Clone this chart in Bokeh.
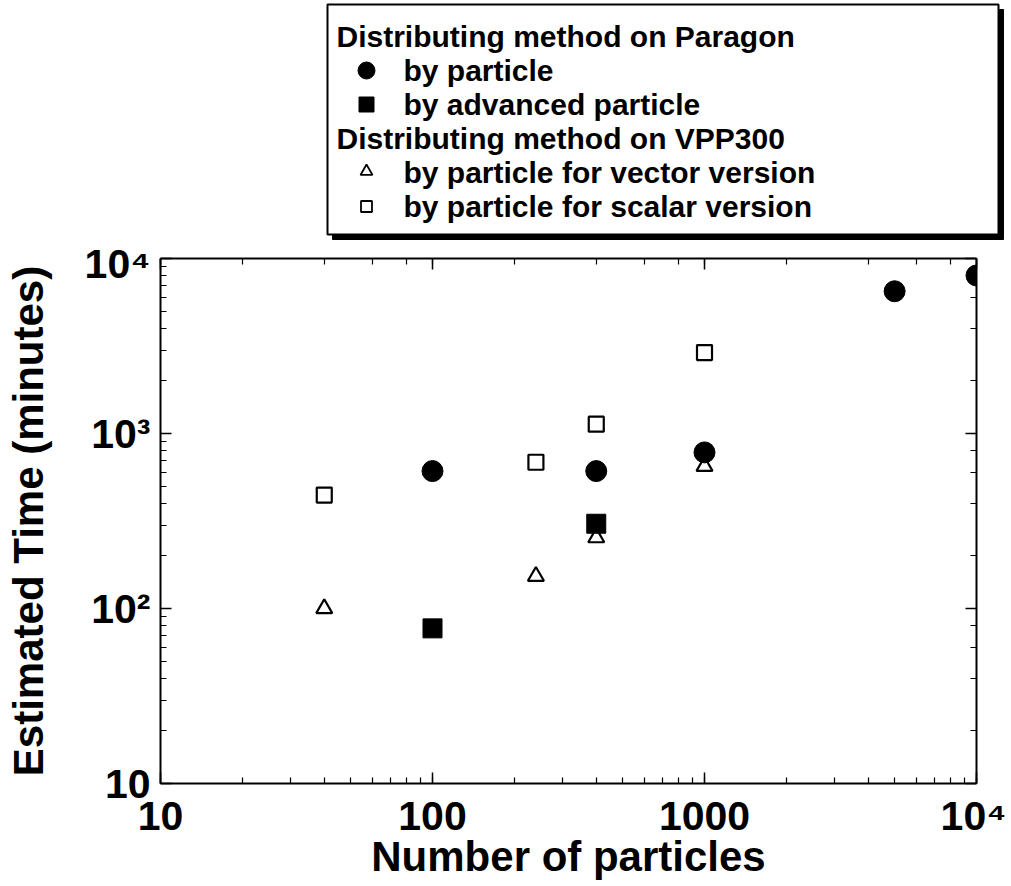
from bokeh.plotting import figure
from bokeh.models import LogAxis, Range1d
from bokeh.layouts import column
from bokeh.core.properties import value
from bokeh.embed import file_html
from bokeh.resources import INLINE

# ---- data ----
paragon_x = [100, 400, 1000, 5000, 10000]
paragon_y = [610, 610, 780, 6500, 8000]
advanced_x = [100, 400]
advanced_y = [77, 305]
vector_x = [40, 240, 400, 1000]
vector_y = [100, 153, 254, 650]
scalar_x = [40, 240, 400, 1000]
scalar_y = [445, 685, 1130, 2900]

x_tick_labels = {10: "10", 100: "100", 1000: "1000", 10000: "10\u2074"}
y_tick_labels = {10: "10", 100: "10\u00b2", 1000: "10\u00b3", 10000: "10\u2074"}

legend_headers = ["Distributing method on Paragon", "Distributing method on VPP300"]
legend_items = ["by particle", "by advanced particle",
                "by particle for vector version", "by particle for scalar version"]

FONT = "Liberation Sans, DejaVu Sans"
W = 1006
HL = 240          # height of the legend strip above the chart

# ================= legend strip =================
leg = figure(width=W, height=HL, x_range=Range1d(0, W), y_range=Range1d(HL, 0),
             output_backend="svg", toolbar_location=None,
             x_axis_location=None, y_axis_location=None, min_border=0)
leg.grid.visible = False
leg.outline_line_color = None
leg.frame_align = False

BL, BT, BR, BB, SH = 327, 4, 998, 234, 5
leg.quad(left=[BL + SH], right=[BR + SH], top=[BT + SH], bottom=[BB + SH],
         fill_color="black", line_color="black")
leg.quad(left=[BL], right=[BR], top=[BT], bottom=[BB],
         fill_color="white", line_color="black", line_width=2)

rows = [36, 70, 104, 138, 172, 206]
hx, mx, tx = 336, 366, 403
leg.text(x=[hx, hx], y=[rows[0], rows[3]], text=legend_headers,
         text_font=value(FONT), text_font_size="30px", text_font_style="bold",
         text_color="black", text_baseline="middle", text_align="left")
leg.text(x=[tx] * 4, y=[rows[1], rows[2], rows[4], rows[5]], text=legend_items,
         text_font=value(FONT), text_font_size="30px", text_font_style="bold",
         text_color="black", text_baseline="middle", text_align="left")
leg.scatter([mx], [rows[1]], marker="circle", size=17, fill_color="black", line_color="black")
leg.scatter([mx], [rows[2]], marker="square", size=15, fill_color="black", line_color="black")
leg.scatter([mx], [rows[4] - 1], marker="triangle", size=12, fill_color="white",
            line_color="black", line_width=1.8)
leg.scatter([mx], [rows[5]], marker="square", size=11, fill_color="white",
            line_color="black", line_width=1.8)

# ================= main chart =================
p = figure(frame_width=816, frame_height=525, x_axis_type="log", y_axis_type="log",
           x_range=Range1d(10, 1e4), y_range=Range1d(10, 1e4),
           output_backend="svg", toolbar_location=None,
           min_border_left=160, min_border_right=30,
           min_border_top=18, min_border_bottom=100)
p.grid.visible = False
p.outline_line_color = None
p.frame_align = False

def style_axis(ax, labels=True):
    ax.axis_line_color = "black"
    ax.axis_line_width = 2
    ax.major_tick_line_color = "black"
    ax.major_tick_line_width = 1.5
    ax.minor_tick_line_color = "black"
    ax.minor_tick_line_width = 1.2
    ax.major_tick_in = 11
    ax.major_tick_out = 0
    ax.minor_tick_in = 6
    ax.minor_tick_out = 0
    if labels:
        ax.major_label_text_font = FONT
        ax.major_label_text_font_size = "41px"
        ax.major_label_text_font_style = "bold"
        ax.major_label_text_color = "black"
        ax.axis_label_text_font = FONT
        ax.axis_label_text_font_size = "42px"
        ax.axis_label_text_font_style = "bold"
        ax.axis_label_text_color = "black"
    else:
        ax.major_label_text_font_size = "6px"
        ax.major_label_text_alpha = 0
        ax.major_label_standoff = 0

xa = p.xaxis[0]
ya = p.yaxis[0]
style_axis(xa)
style_axis(ya)
xa.major_label_overrides = x_tick_labels
ya.major_label_overrides = y_tick_labels
xa.axis_label = "Number of particles"
ya.axis_label = "Estimated Time (minutes)"
xa.major_label_standoff = 9
ya.major_label_standoff = 10
xa.axis_label_standoff = -9
ya.axis_label_standoff = 30

top_ax = LogAxis()
right_ax = LogAxis()
style_axis(top_ax, labels=False)
style_axis(right_ax, labels=False)
p.add_layout(top_ax, "above")
p.add_layout(right_ax, "right")

p.scatter(vector_x, vector_y, marker="triangle", size=16, fill_color="white",
          line_color="black", line_width=2.2)
p.scatter(scalar_x, scalar_y, marker="square", size=15, fill_color="white",
          line_color="black", line_width=2.2)
p.scatter(paragon_x, paragon_y, marker="circle", size=21, fill_color="black",
          line_color="black")
p.scatter(advanced_x, advanced_y, marker="square", size=19, fill_color="black",
          line_color="black")

layout = column(leg, p, spacing=0)
open("out.html", "w").write(file_html(layout, INLINE))
